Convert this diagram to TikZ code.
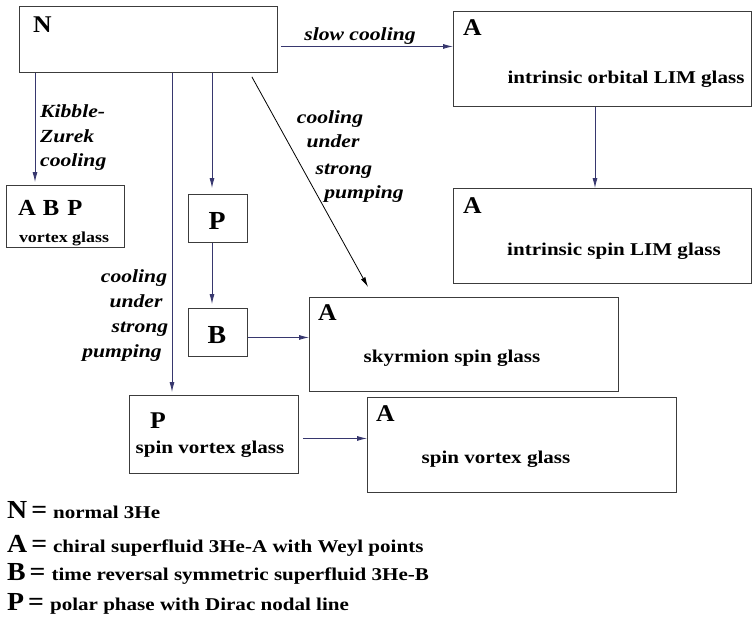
\documentclass[tikz,border=0pt]{standalone}
\usepackage{fontspec}
\setmainfont[FakeStretch=1.17]{Liberation Serif}
\newfontfamily\letterfont[FakeStretch=1.07]{Liberation Serif}
\usetikzlibrary{arrows.meta}

\definecolor{boxgray}{RGB}{60,60,60}
\definecolor{arrowblue}{RGB}{55,55,110}

\tikzset{
  box/.style={draw=boxgray, line width=0.9pt, rectangle, inner sep=0pt, anchor=north west},
  phase/.style={font=\letterfont\fontsize{24}{24}\selectfont\bfseries, inner sep=0pt},
  glass/.style={font=\fontsize{18}{18}\selectfont\bfseries, inner sep=0pt},
  route/.style={font=\fontsize{18.5}{18.5}\selectfont\bfseries\itshape, inner sep=0pt},
  legend/.style={font=\fontsize{18}{18}\selectfont\bfseries, inner sep=0pt, anchor=base west},
  arr/.style={draw=arrowblue, line width=0.8pt, -{Latex[length=10pt,width=5pt]}},
}
\newcommand{\legletter}[1]{{\letterfont\fontsize{26}{26}\selectfont #1\hspace{4pt}=}\hspace{6pt}}

\begin{document}
\begin{tikzpicture}[x=1pt, y=-1pt]
  \useasboundingbox (0,0) rectangle (753,633);

  % boxes
  \node[box, minimum width=258pt, minimum height=66pt] (N) at (19,6) {};
  \node[box, minimum width=298pt, minimum height=95pt] (Aorb) at (453,11) {};
  \node[box, minimum width=298pt, minimum height=95pt] (Aspin) at (453,188) {};
  \node[box, minimum width=118pt, minimum height=62pt] (ABP) at (6,185) {};
  \node[box, minimum width=59pt, minimum height=48pt] (Pbox) at (188,194) {};
  \node[box, minimum width=59pt, minimum height=48pt] (Bbox) at (188,308) {};
  \node[box, minimum width=309pt, minimum height=94pt] (Asky) at (309,297) {};
  \node[box, minimum width=169pt, minimum height=78pt] (Psv) at (129,395) {};
  \node[box, minimum width=309pt, minimum height=95pt] (Asv) at (367,397) {};

  % phase letters
  \node[phase, anchor=base west] (Nlet) at (33,32) {N};
  \node[phase, anchor=base west] (Aorblet) at (463,35) {A};
  \node[phase, anchor=base west] (Aspinlet) at (463,213) {A};
  \node[phase, anchor=base west, font=\letterfont\fontsize{23}{23}\selectfont\bfseries] (ABPlet) at (18,215) {A\hspace{7pt}B\hspace{8pt}P};
  \node[phase, anchor=base, font=\letterfont\fontsize{26}{26}\selectfont\bfseries] (Plet) at (217,229) {P};
  \node[phase, anchor=base, font=\letterfont\fontsize{26}{26}\selectfont\bfseries] (Blet) at (217,343) {B};
  \node[phase, anchor=base west] (Askylet) at (318,320) {A};
  \node[phase, anchor=base west] (Psvlet) at (150,428) {P};
  \node[phase, anchor=base west] (Asvlet) at (376,421) {A};

  % glass names
  \node[glass, anchor=base] (orbtext) at (626,83) {intrinsic orbital LIM glass};
  \node[glass, anchor=base] (spintext) at (614,255) {intrinsic spin LIM glass};
  \node[glass, anchor=base, font=\fontsize{15.3}{15.3}\selectfont\bfseries] (vgtext) at (64,242) {vortex glass};
  \node[glass, anchor=base] (skytext) at (452,362) {skyrmion spin glass};
  \node[glass, anchor=base] (psvtext) at (210,453) {spin vortex glass};
  \node[glass, anchor=base] (asvtext) at (496,463) {spin vortex glass};

  % routes
  \node[route, anchor=base] (slow) at (360,40) {slow cooling};
  \node[route, anchor=base west] (kz1) at (40,117) {Kibble-};
  \node[route, anchor=base west] (kz2) at (40,142) {Zurek};
  \node[route, anchor=base west] (kz3) at (40,166) {cooling};
  \node[route, anchor=base] (rp1) at (330,123) {cooling};
  \node[route, anchor=base] (rp2) at (333,147) {under};
  \node[route, anchor=base] (rp3) at (344,174) {strong};
  \node[route, anchor=base] (rp4) at (364,198) {pumping};
  \node[route, anchor=base] (lp1) at (134,282) {cooling};
  \node[route, anchor=base] (lp2) at (136,307) {under};
  \node[route, anchor=base] (lp3) at (140,332) {strong};
  \node[route, anchor=base] (lp4) at (122,357) {pumping};

  % connectors
  \draw[arr] ([xshift=3pt,yshift=-7pt]N.east) -- ([yshift=12.5pt]Aorb.west);
  \draw[arr] ([xshift=16pt]N.south west) -- ([xshift=29pt,yshift=3pt]ABP.north west);
  \draw[arr] ([xshift=153pt]N.south west) -- ([xshift=43pt,yshift=3pt]Psv.north west);
  \draw[arr] ([xshift=193pt]N.south west) -- ([xshift=24pt,yshift=6pt]Pbox.north west);
  \draw[arr] ([xshift=24pt]Pbox.south west) -- ([xshift=24pt,yshift=4pt]Bbox.north west);
  \draw[arr] ([yshift=-5pt]Bbox.east) -- ([yshift=7pt]Asky.west);
  \draw[arr, draw=black] ([xshift=-26pt,yshift=-4pt]N.south east) -- ([xshift=59pt,yshift=10pt]Asky.north west);
  \draw[arr] ([xshift=142pt]Aorb.south west) -- ([xshift=142pt]Aspin.north west);
  \draw[arr] ([xshift=4pt,yshift=-4pt]Psv.east) -- ([yshift=6.5pt]Asv.west);

  % legend
  \node[legend] (legN) at (7,518) {\legletter{N}normal 3He};
  \node[legend] (legA) at (7,552) {\legletter{A}chiral superfluid 3He-A with Weyl points};
  \node[legend] (legB) at (7,580) {\legletter{B}time reversal symmetric superfluid 3He-B};
  \node[legend] (legP) at (7,610) {\legletter{P}polar phase with Dirac nodal line};
\end{tikzpicture}
\end{document}
